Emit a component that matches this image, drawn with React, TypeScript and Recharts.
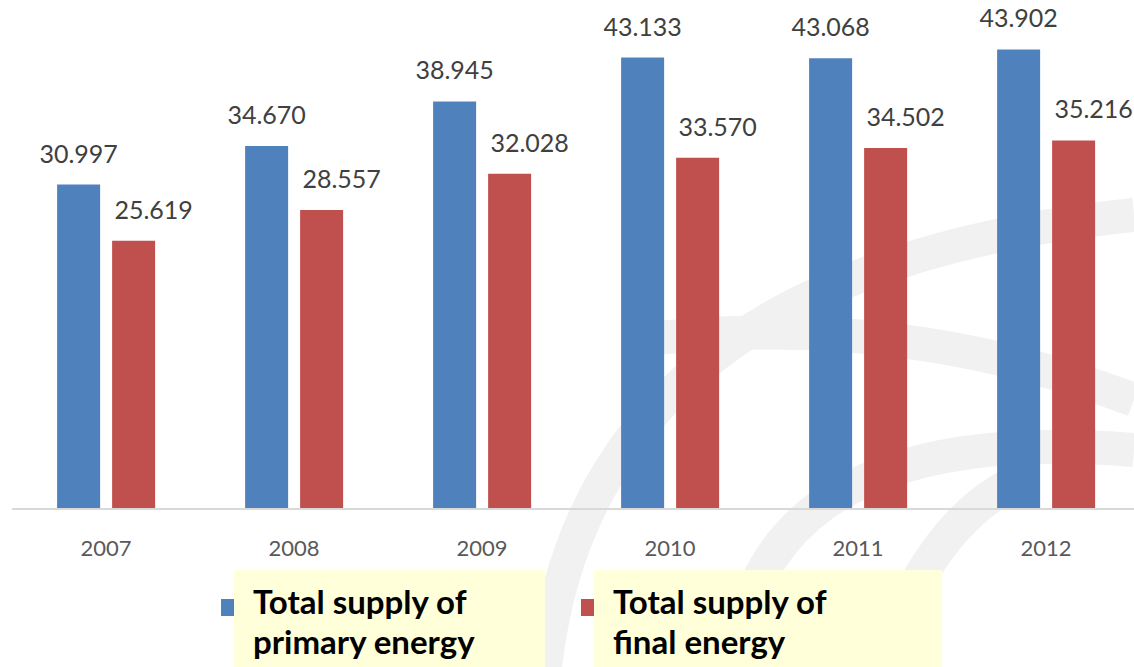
import { BarChart, Bar, XAxis, YAxis, LabelList } from 'recharts';

const YEARS = ['2007', '2008', '2009', '2010', '2011', '2012'];
const PRIMARY = [30.997, 34.67, 38.945, 43.133, 43.068, 43.902];
const FINAL = [25.619, 28.557, 32.028, 33.57, 34.502, 35.216];
const SERIES_NAMES = ['Total supply of primary energy', 'Total supply of final energy'];
const LEGEND_LINES = [
    ['Total supply of', 'primary energy'],
    ['Total supply of', 'final energy'],
];

const BLUE = '#4f81bd';
const RED = '#c0504d';

const data = YEARS.map((year, i) => ({ year, primary: PRIMARY[i], final: FINAL[i] }));

const fmt = (v: any) => Number(v).toFixed(3);

// faint watermark arcs in the background
const Watermark = () => (
    <svg width={1134} height={667} style={{ position: 'absolute', left: 0, top: 0 }}>
        <g fill="none" stroke="#f1f1f1" strokeWidth={34}>
            <path d="M 545 667 Q 590 270 1134 215" />
            <path d="M 735 667 Q 760 420 1134 450" />
            <path d="M 640 340 Q 900 310 1134 400" />
            <path d="M 880 667 Q 930 520 1020 480" />
        </g>
    </svg>
);

const LegendItem = ({ color, lines, left, width }: { color: string; lines: string[]; left: number; width: number }) => (
    <div style={{ position: 'absolute', left, top: 570 }}>
        <div style={{ position: 'absolute', left: 0, top: 29, width: 18, height: 17, background: color }} />
        <div
            style={{
                position: 'absolute',
                left: 13,
                top: 0,
                width,
                height: 97,
                background: '#ffffd9',
                boxSizing: 'border-box',
                padding: '11px 0 0 19px',
                fontFamily: 'Lato, sans-serif',
                fontWeight: 700,
                fontSize: 33,
                lineHeight: '40px',
                color: '#000',
            }}
        >
            {lines.map((l) => (
                <div key={l}>{l}</div>
            ))}
        </div>
    </div>
);

export default function App() {
    return (
        <div style={{ position: 'absolute', left: 0, top: 0, width: 1134, height: 667, background: '#fff', overflow: 'hidden' }}>
            <Watermark />
            <div style={{ position: 'absolute', left: 0, top: 0 }}>
                <BarChart
                    width={1134}
                    height={667}
                    data={data}
                    margin={{ top: 38, right: -6, left: 12, bottom: 98 }}
                    barCategoryGap="24%"
                    barGap={12}
                >
                    <XAxis
                        dataKey="year"
                        height={60}
                        axisLine={{ stroke: '#d9d9d9', strokeWidth: 2 }}
                        tickLine={false}
                        tickMargin={25}
                        tick={{ fill: '#595959', fontSize: 22, fontFamily: 'Lato, sans-serif' }}
                    />
                    <YAxis hide domain={[0, 45]} />
                    <Bar dataKey="primary" name={SERIES_NAMES[0]} fill={BLUE} isAnimationActive={false}>
                        <LabelList dataKey="primary" position="top" offset={22} formatter={fmt} fill="#404040" fontSize={25} fontFamily="Lato, sans-serif" />
                    </Bar>
                    <Bar dataKey="final" name={SERIES_NAMES[1]} fill={RED} isAnimationActive={false}>
                        <LabelList dataKey="final" position="top" offset={22} dx={20} formatter={fmt} fill="#404040" fontSize={25} fontFamily="Lato, sans-serif" />
                    </Bar>
                </BarChart>
            </div>
            <LegendItem color={BLUE} lines={LEGEND_LINES[0]} left={221} width={311} />
            <LegendItem color={RED} lines={LEGEND_LINES[1]} left={581} width={348} />
        </div>
    );
}
